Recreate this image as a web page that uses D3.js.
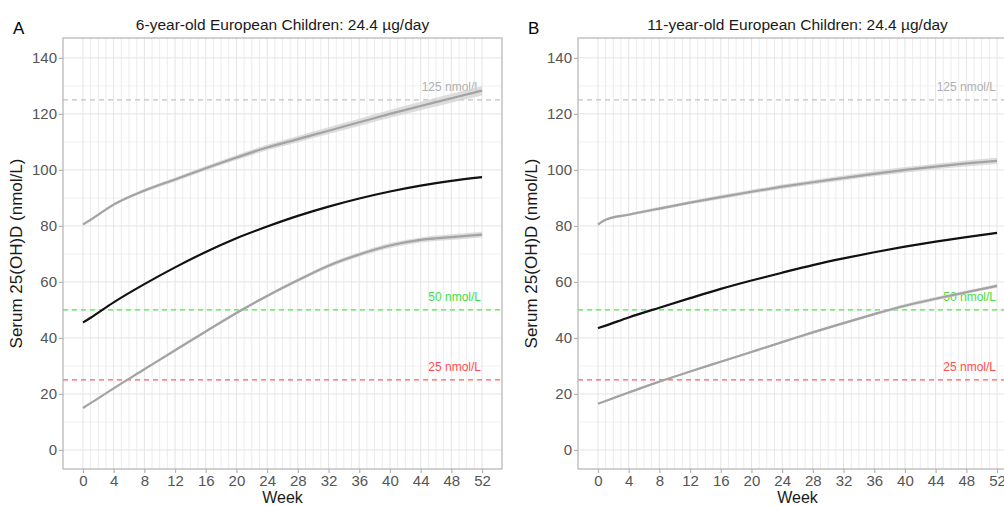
<!DOCTYPE html>
<html>
<head>
<meta charset="utf-8">
<script src="https://cdn.jsdelivr.net/npm/d3@7"></script>
<style>
  body { margin: 0; background: #fff; }
  svg { font-family: "Liberation Sans", Arial, sans-serif; }
</style>
</head>
<body>
<div id="chart"></div>
<script>
const weeks = [0, 1, 4, 8, 12, 16, 20, 24, 28, 32, 36, 40, 44, 48, 52];
const xTicks = [0, 4, 8, 12, 16, 20, 24, 28, 32, 36, 40, 44, 48, 52];
const yTicks = [0, 20, 40, 60, 80, 100, 120, 140];

// panel A: 6-year-old
const medianA = [45.5, 47.2, 52.7, 59.2, 65.2, 70.7, 75.6, 79.8, 83.6, 86.9, 89.8, 92.3, 94.4, 96.1, 97.4];
const upperA  = [80.5, 82.2, 87.6, 92.6, 96.6, 100.6, 104.4, 108.0, 111.0, 114.0, 117.0, 120.0, 122.8, 125.6, 128.3];
const lowerA  = [15.0, 16.7, 22.0, 28.8, 35.6, 42.3, 48.9, 55.0, 60.6, 65.8, 69.8, 73.0, 75.0, 76.0, 76.9];
const upperBandA = [0.3, 0.4, 0.5, 0.6, 0.7, 0.8, 0.9, 1.0, 1.1, 1.2, 1.3, 1.4, 1.5, 1.6, 1.7];
const lowerBandA = [0.2, 0.2, 0.3, 0.3, 0.4, 0.4, 0.5, 0.5, 0.6, 0.7, 0.8, 0.9, 0.9, 1.0, 1.0];

// panel B: 11-year-old
const medianB = [43.5, 44.4, 47.3, 50.8, 54.2, 57.5, 60.5, 63.3, 66.0, 68.4, 70.6, 72.6, 74.4, 76.0, 77.5];
const upperB  = [80.5, 82.2, 84.0, 86.2, 88.3, 90.3, 92.2, 94.0, 95.6, 97.1, 98.6, 100.0, 101.2, 102.3, 103.2];
const lowerB  = [16.5, 17.5, 20.5, 24.4, 28.0, 31.5, 35.0, 38.5, 42.0, 45.3, 48.5, 51.5, 54.0, 56.3, 58.6];
const upperBandB = [0.3, 0.4, 0.5, 0.6, 0.6, 0.7, 0.7, 0.8, 0.8, 0.9, 0.9, 1.0, 1.0, 1.1, 1.1];
const lowerBandB = [0.2, 0.2, 0.3, 0.3, 0.3, 0.4, 0.4, 0.4, 0.5, 0.5, 0.5, 0.6, 0.6, 0.6, 0.7];

// reference thresholds
const refValues = [125, 50, 25];
const refLabels = ["125 nmol/L", "50 nmol/L", "25 nmol/L"];
const refColors = ["#c2c2c2", "#4fe64f", "#ff5c5c"];
const refTextColors = ["#b0b0b0", "#44dd44", "#ff4d4d"];

const panels = [
    { tag: "A", title: "6-year-old European Children: 24.4 \u00b5g/day", left: 63, right: 502,
      median: medianA, upper: upperA, lower: lowerA, upperBand: upperBandA, lowerBand: lowerBandA },
    { tag: "B", title: "11-year-old European Children: 24.4 \u00b5g/day", left: 578, right: 1017,
      median: medianB, upper: upperB, lower: lowerB, upperBand: upperBandB, lowerBand: lowerBandB }
];

const W = 1004, H = 506;
const plotTop = 38, plotBottom = 469;

const svg = d3.select("#chart").append("svg")
    .attr("width", W)
    .attr("height", H);

panels.forEach((p, pi) => {
    let x = d3.scaleLinear().domain([-2.6, 54.6]).range([p.left, p.right]);
    let y = d3.scaleLinear().domain([-6.8, 147.1]).range([plotBottom, plotTop]);

    let g = svg.append("g");

    // clip to the panel
    let clipId = "clip" + pi;
    g.append("clipPath").attr("id", clipId)
        .append("rect")
        .attr("x", p.left).attr("y", plotTop)
        .attr("width", p.right - p.left).attr("height", plotBottom - plotTop);

    let plot = g.append("g").attr("clip-path", "url(#" + clipId + ")");

    // grid
    plot.selectAll(".hminor")
        .data(d3.range(10, 141, 20))
        .enter().append("line")
        .attr("x1", p.left).attr("x2", p.right)
        .attr("y1", d => y(d)).attr("y2", d => y(d))
        .attr("stroke", "#f1f1f1").attr("stroke-width", 1);

    plot.selectAll(".vgrid")
        .data(d3.range(0, 53, 1))
        .enter().append("line")
        .attr("x1", d => x(d)).attr("x2", d => x(d))
        .attr("y1", plotTop).attr("y2", plotBottom)
        .attr("stroke", d => d % 4 === 0 ? "#e4e4e4" : "#ececec")
        .attr("stroke-width", 1);

    plot.selectAll(".hmajor")
        .data(yTicks)
        .enter().append("line")
        .attr("x1", p.left).attr("x2", p.right)
        .attr("y1", d => y(d)).attr("y2", d => y(d))
        .attr("stroke", "#e4e4e4").attr("stroke-width", 1);

    // reference lines
    refValues.forEach((v, i) => {
        plot.append("line")
            .attr("x1", p.left).attr("x2", p.right)
            .attr("y1", y(v)).attr("y2", y(v))
            .attr("stroke", refColors[i])
            .attr("stroke-width", 1.2)
            .attr("stroke-dasharray", "5,4");
        plot.append("text")
            .attr("x", x(52) - 1)
            .attr("y", y(v) - 9)
            .attr("text-anchor", "end")
            .attr("font-size", 12)
            .attr("fill", refTextColors[i])
            .text(refLabels[i]);
    });

    // ribbons for the percentile curves
    const area = d3.area()
        .x(d => x(d.w))
        .y0(d => y(d.v - d.s))
        .y1(d => y(d.v + d.s))
        .curve(d3.curveMonotoneX);

    const line = d3.line()
        .x(d => x(d.w))
        .y(d => y(d.v))
        .curve(d3.curveMonotoneX);

    let upperPts = weeks.map((w, i) => ({ w: w, v: p.upper[i], s: p.upperBand[i] }));
    let lowerPts = weeks.map((w, i) => ({ w: w, v: p.lower[i], s: p.lowerBand[i] }));
    let medPts = weeks.map((w, i) => ({ w: w, v: p.median[i] }));

    [upperPts, lowerPts].forEach(pts => {
        plot.append("path")
            .datum(pts)
            .attr("d", area)
            .attr("fill", "#d4d4d4")
            .attr("opacity", 0.8);
        plot.append("path")
            .datum(pts)
            .attr("d", line)
            .attr("fill", "none")
            .attr("stroke", "#a3a3a3")
            .attr("stroke-width", 2.2);
    });

    plot.append("path")
        .datum(medPts)
        .attr("d", line)
        .attr("fill", "none")
        .attr("stroke", "#111")
        .attr("stroke-width", 2.2);

    // panel border
    g.append("rect")
        .attr("x", p.left).attr("y", plotTop)
        .attr("width", p.right - p.left).attr("height", plotBottom - plotTop)
        .attr("fill", "none")
        .attr("stroke", "#b3b3b3")
        .attr("stroke-width", 1.2);

    // axes
    let yAxis = d3.axisLeft(y).tickValues(yTicks).tickSize(4).tickPadding(2);
    let xAxis = d3.axisBottom(x).tickValues(xTicks).tickSize(4).tickPadding(2);

    let ya = g.append("g")
        .attr("transform", "translate(" + p.left + ",0)")
        .call(yAxis);
    let xa = g.append("g")
        .attr("transform", "translate(0," + plotBottom + ")")
        .call(xAxis);

    [ya, xa].forEach(a => {
        a.select(".domain").remove();
        a.selectAll("line").attr("stroke", "#b3b3b3").attr("stroke-width", 1.2);
        a.selectAll("text")
            .attr("fill", "#555")
            .attr("font-size", 15)
            .attr("font-family", "'Liberation Sans', Arial, sans-serif");
    });

    // axis titles
    g.append("text")
        .attr("transform", "translate(" + (p.left - 41) + "," + ((plotTop + plotBottom) / 2) + ") rotate(-90)")
        .attr("text-anchor", "middle")
        .attr("font-size", 17)
        .attr("fill", "#1a1a1a")
        .text("Serum 25(OH)D (nmol/L)");

    g.append("text")
        .attr("x", x(26))
        .attr("y", 503)
        .attr("text-anchor", "middle")
        .attr("font-size", 16)
        .attr("fill", "#1a1a1a")
        .text("Week");

    // title and panel tag
    g.append("text")
        .attr("x", (p.left + p.right) / 2)
        .attr("y", 30)
        .attr("text-anchor", "middle")
        .attr("font-size", 15.5)
        .attr("fill", "#1a1a1a")
        .text(p.title);

    g.append("text")
        .attr("x", p.left - 50)
        .attr("y", 34)
        .attr("font-size", 17)
        .attr("fill", "#000")
        .text(p.tag);
});
</script>
</body>
</html>
